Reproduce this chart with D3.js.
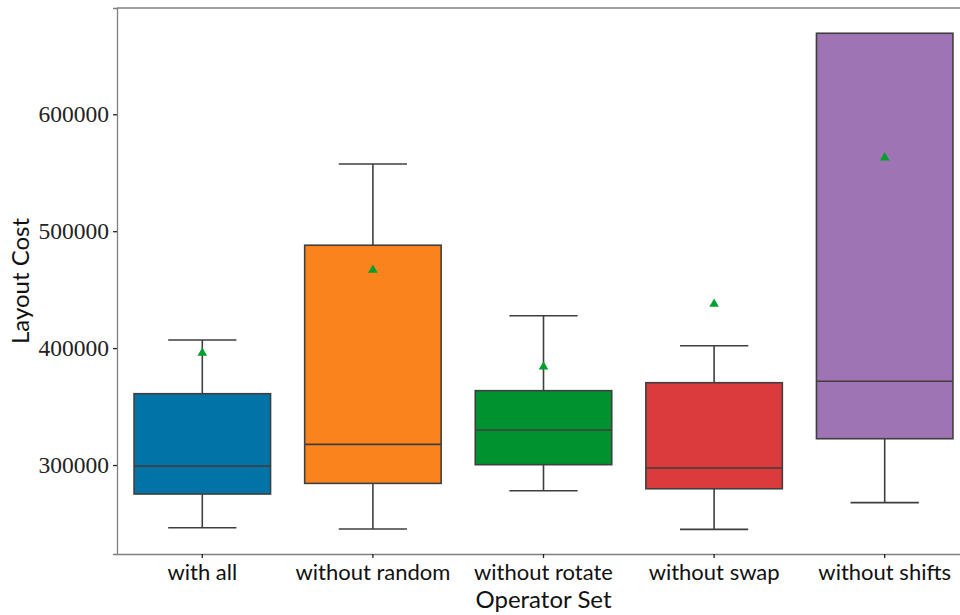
<!DOCTYPE html>
<html>
<head>
<meta charset="utf-8">
<script src="https://cdn.jsdelivr.net/npm/d3@7"></script>
<style>
  body { margin: 0; background: #fff; }
  .ytick text { font-family: "Liberation Serif", serif; font-size: 23.5px; }
  .xtick text { font-family: Lato, sans-serif; font-size: 22px; }
</style>
</head>
<body>
<div id="chart"></div>
<script>
// operator sets and the box statistics
const categories = ["with all", "without random", "without rotate", "without swap", "without shifts"];
const whiskerLow = [246400, 245300, 278000, 245000, 267800];
const q1 = [275200, 284300, 300300, 279700, 322500];
const median = [299100, 317700, 329900, 297400, 371600];
const q3 = [361000, 488000, 363600, 370400, 669300];
const whiskerHigh = [406900, 557500, 427700, 402000, 669300];
const means = [395800, 466800, 384100, 437700, 562900];
const colors = ["#0173a6", "#fa831e", "#00922f", "#dc3b3d", "#9e74b5"];
const yTicks = [300000, 400000, 500000, 600000];

const width = 960, height = 615;
const margin = { left: 117, top: 8, right: -10, bottom: 61 };

const svg = d3.select("#chart").append("svg")
  .attr("width", width)
  .attr("height", height);

const x = d3.scaleBand()
  .domain(categories)
  .range([margin.left, width - margin.right])
  .paddingInner(0).paddingOuter(0);

const y = d3.scaleLinear()
  .domain([223900, 690900])
  .range([height - margin.bottom, margin.top]);

const rows = categories.map((c, i) => ({
  cat: c, lo: whiskerLow[i], q1: q1[i], med: median[i], q3: q3[i], hi: whiskerHigh[i], mean: means[i], color: colors[i]
}));

const boxW = x.bandwidth() * 0.8;
const lineCol = "#3f3f3f";

const g = svg.append("g").selectAll("g").data(rows).join("g")
  .attr("transform", d => `translate(${x(d.cat) + x.bandwidth() / 2},0)`);

// whiskers
g.append("line").attr("x1", 0).attr("x2", 0)
  .attr("y1", d => y(d.q3)).attr("y2", d => y(d.hi))
  .attr("stroke", lineCol).attr("stroke-width", 1.6);
g.append("line").attr("x1", 0).attr("x2", 0)
  .attr("y1", d => y(d.q1)).attr("y2", d => y(d.lo))
  .attr("stroke", lineCol).attr("stroke-width", 1.6);
// caps
g.filter(d => d.hi > d.q3).append("line").attr("x1", -boxW / 4).attr("x2", boxW / 4)
  .attr("y1", d => y(d.hi)).attr("y2", d => y(d.hi))
  .attr("stroke", lineCol).attr("stroke-width", 1.6);
g.append("line").attr("x1", -boxW / 4).attr("x2", boxW / 4)
  .attr("y1", d => y(d.lo)).attr("y2", d => y(d.lo))
  .attr("stroke", lineCol).attr("stroke-width", 1.6);

// boxes
g.append("rect")
  .attr("x", -boxW / 2).attr("width", boxW)
  .attr("y", d => y(d.q3)).attr("height", d => y(d.q1) - y(d.q3))
  .attr("fill", d => d.color)
  .attr("stroke", lineCol).attr("stroke-width", 1.6);

// medians
g.append("line").attr("x1", -boxW / 2).attr("x2", boxW / 2)
  .attr("y1", d => y(d.med)).attr("y2", d => y(d.med))
  .attr("stroke", lineCol).attr("stroke-width", 1.6);

// mean markers
g.append("path")
  .attr("d", d3.symbol().type(d3.symbolTriangle).size(40))
  .attr("transform", d => `translate(0,${y(d.mean)})`)
  .attr("fill", "#00a02c");

// axes
const yAxis = svg.append("g")
  .attr("class", "ytick")
  .attr("transform", `translate(${margin.left},0)`)
  .call(d3.axisLeft(y).tickValues(yTicks).tickSize(4).tickPadding(4).tickFormat(d3.format("d")));
yAxis.select(".domain").attr("stroke", "#808080").attr("stroke-width", 1.3);
yAxis.selectAll(".tick line").attr("stroke", "#222").attr("stroke-width", 1.3);
yAxis.selectAll(".tick text").attr("fill", "#222");

const xAxis = svg.append("g")
  .attr("class", "xtick")
  .attr("transform", `translate(0,${height - margin.bottom})`)
  .call(d3.axisBottom(x).tickSize(4).tickPadding(6).tickSizeOuter(0));
xAxis.select(".domain").attr("stroke", "#808080").attr("stroke-width", 1.3);
xAxis.selectAll(".tick line").attr("stroke", "#222").attr("stroke-width", 1.3);
xAxis.selectAll(".tick text").attr("fill", "#111");

// top spine
svg.append("line")
  .attr("x1", margin.left).attr("x2", width)
  .attr("y1", margin.top).attr("y2", margin.top)
  .attr("stroke", "#808080").attr("stroke-width", 1.3);

// axis titles
svg.append("text")
  .attr("x", (margin.left + width - margin.right) / 2)
  .attr("y", 608)
  .attr("text-anchor", "middle")
  .style("font-family", "Lato, sans-serif").style("font-size", "24px")
  .attr("fill", "#111")
  .text("Operator Set");

svg.append("text")
  .attr("transform", `translate(29,${(margin.top + height - margin.bottom) / 2}) rotate(-90)`)
  .attr("text-anchor", "middle")
  .style("font-family", "Lato, sans-serif").style("font-size", "24px")
  .attr("fill", "#111")
  .text("Layout Cost");
</script>
</body>
</html>
